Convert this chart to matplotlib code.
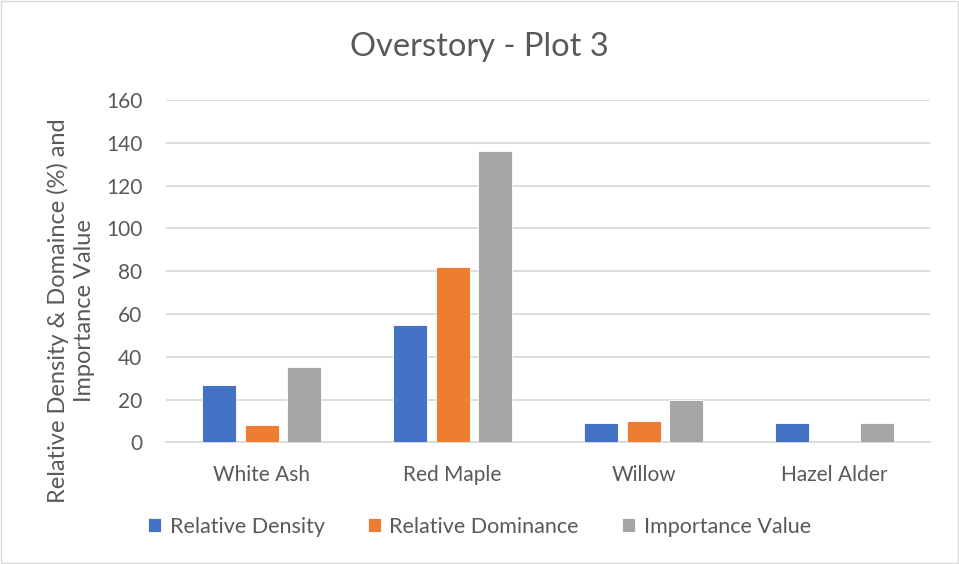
import matplotlib
matplotlib.use("Agg")
import matplotlib.pyplot as plt
import numpy as np
from matplotlib.patches import Rectangle

plt.rcParams['font.family'] = ['Lato', 'DejaVu Sans']

species = ['White Ash', 'Red Maple', 'Willow', 'Hazel Alder']
rel_density = [27, 55, 9, 9]
rel_dominance = [8, 82, 10, 0]
importance = [35, 136, 20, 9]

series = [
    ('Relative Density', rel_density, '#4472c4'),
    ('Relative Dominance', rel_dominance, '#ed7d31'),
    ('Importance Value', importance, '#a5a5a5'),
]

text_col = '#595959'
grid_col = '#d9d9d9'

fig = plt.figure(figsize=(9.59, 5.64), dpi=100)
ax = fig.add_axes([0.1731, 0.2158, 0.7967, 0.6069])

x = np.arange(len(species))
width = 0.178
step = 0.2225
for i, (name, vals, col) in enumerate(series):
    ax.bar(x + (i - 1) * step, vals, width, color=col, label=name,
           edgecolor='white', linewidth=0.6, zorder=3)

ax.set_xlim(-0.5, len(species) - 0.5)
ax.set_ylim(0, 160)
ax.set_yticks(np.arange(0, 161, 20))
ax.set_xticks(x)
ax.set_xticklabels(species)
ax.yaxis.grid(True, color=grid_col, linewidth=1.3, zorder=0)
for s in ['top', 'right', 'left']:
    ax.spines[s].set_visible(False)
ax.spines['bottom'].set_color(grid_col)
ax.spines['bottom'].set_linewidth(1.3)
ax.tick_params(axis='both', length=0, labelsize=15, colors=text_col)
ax.tick_params(axis='x', pad=16)
ax.tick_params(axis='y', pad=17)

fig.text(0.5, 0.917, 'Overstory - Plot 3', ha='center', va='center',
         fontsize=23.5, color=text_col)
fig.text(0.074, 0.45, 'Relative Density & Domaince (%) and\nImportance Value',
         rotation=90, ha='center', va='center', fontsize=17, color=text_col,
         linespacing=1.25)

leg = fig.legend(loc='center', bbox_to_anchor=(0.5, 0.066), ncol=3,
                 frameon=False, fontsize=15.5, handlelength=0.6, handleheight=0.6,
                 handletextpad=0.4, columnspacing=2.0)
for t in leg.get_texts():
    t.set_color(text_col)

# chart frame
fig.patches.append(Rectangle((0.001, 0.001), 0.998, 0.997, transform=fig.transFigure,
                             fill=False, edgecolor=grid_col, linewidth=1))

fig.savefig('out.png', dpi=100)
